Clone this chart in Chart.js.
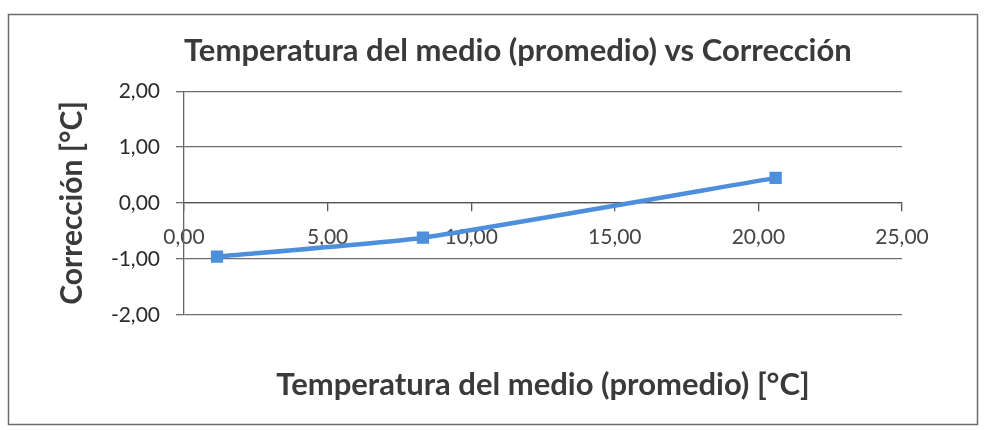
<!DOCTYPE html>
<html>
<head>
<meta charset="utf-8">
<script src="https://cdn.jsdelivr.net/npm/chart.js@4/dist/chart.umd.min.js"></script>
<style>
  html, body { margin: 0; padding: 0; background: #fff; }
  #wrap { width: 986px; height: 430px; position: relative; }
</style>
</head>
<body>
<div id="wrap"><canvas id="c" width="986" height="430"></canvas></div>
<script>
// Data
const temperaturaMedio = [1.15, 8.32, 20.6];
const correccion = [-0.96, -0.62, 0.45];
const xTickValues = [0, 5, 10, 15, 20, 25];
const yTickValues = [-2, -1, 0, 1, 2];

const chartTitle = 'Temperatura del medio (promedio) vs Corrección';
const xTitle = 'Temperatura del medio (promedio) [°C]';
const yTitle = 'Corrección [°C]';

const fmt = v => Number(v).toFixed(2).replace('.', ',');

const points = temperaturaMedio.map((x, i) => ({ x: x, y: correccion[i] }));

const borderPlugin = {
  id: 'outerBorder',
  beforeDraw(chart) {
    const ctx = chart.ctx;
    ctx.save();
    ctx.fillStyle = '#ffffff';
    ctx.fillRect(0, 0, chart.width, chart.height);
    ctx.strokeStyle = '#6b6b6b';
    ctx.lineWidth = 1.5;
    ctx.strokeRect(8.5, 14.5, 969, 410);
    ctx.restore();
  }
};

const FONT = "Lato, 'Open Sans', 'DejaVu Sans', sans-serif";

new Chart(document.getElementById('c'), {
  type: 'scatter',
  data: {
    datasets: [{
      data: points,
      showLine: true,
      borderColor: '#4d8fdc',
      backgroundColor: '#4d8fdc',
      borderWidth: 4.5,
      tension: 0.15,
      pointStyle: 'rect',
      pointRadius: 5.5,
      pointHoverRadius: 5.5
    }]
  },
  options: {
    responsive: false,
    animation: false,
    devicePixelRatio: 1,
    layout: { padding: { left: 50, right: 84, top: 18, bottom: 10 } },
    plugins: {
      legend: { display: false },
      tooltip: { enabled: false },
      title: {
        display: true,
        text: chartTitle,
        align: 'start',
        fullSize: false,
        color: '#3a3a3a',
        font: { family: FONT, size: 31, weight: 'bold' },
        padding: { top: 14, bottom: 22 }
      },
      subtitle: {
        display: true,
        position: 'bottom',
        fullSize: false,
        text: xTitle,
        color: '#3a3a3a',
        font: { family: FONT, size: 31, weight: 'bold' },
        padding: { top: 52, bottom: 16 }
      }
    },
    scales: {
      x: {
        type: 'linear',
        position: { y: 0 },
        min: 0,
        max: 25,
        afterBuildTicks: s => { s.ticks = xTickValues.map(v => ({ value: v })); },
        ticks: {
          callback: v => fmt(v),
          color: '#444444',
          font: { family: FONT, size: 21 },
          padding: 14,
          maxRotation: 0,
          autoSkip: false
        },
        grid: {
          drawOnChartArea: false,
          drawTicks: true,
          tickLength: 8,
          color: '#555555',
          lineWidth: 1.3
        },
        border: { display: true, color: '#555555', width: 1.3 }
      },
      y: {
        type: 'linear',
        position: 'left',
        min: -2,
        max: 2,
        afterBuildTicks: s => { s.ticks = yTickValues.map(v => ({ value: v })); },
        ticks: {
          callback: v => fmt(v),
          color: '#2a2a2a',
          font: { family: FONT, size: 21 },
          padding: 16
        },
        grid: {
          drawOnChartArea: true,
          drawTicks: true,
          tickLength: 8,
          color: '#6e6e6e',
          lineWidth: 1.3
        },
        border: { display: true, color: '#666666', width: 1.3 },
        title: {
          display: true,
          text: yTitle,
          color: '#3a3a3a',
          font: { family: FONT, size: 30, weight: 'bold' },
          padding: { top: 4, bottom: 4 }
        },
        afterFit: s => { s.width = 134; }
      }
    }
  },
  plugins: [borderPlugin]
});
</script>
</body>
</html>
